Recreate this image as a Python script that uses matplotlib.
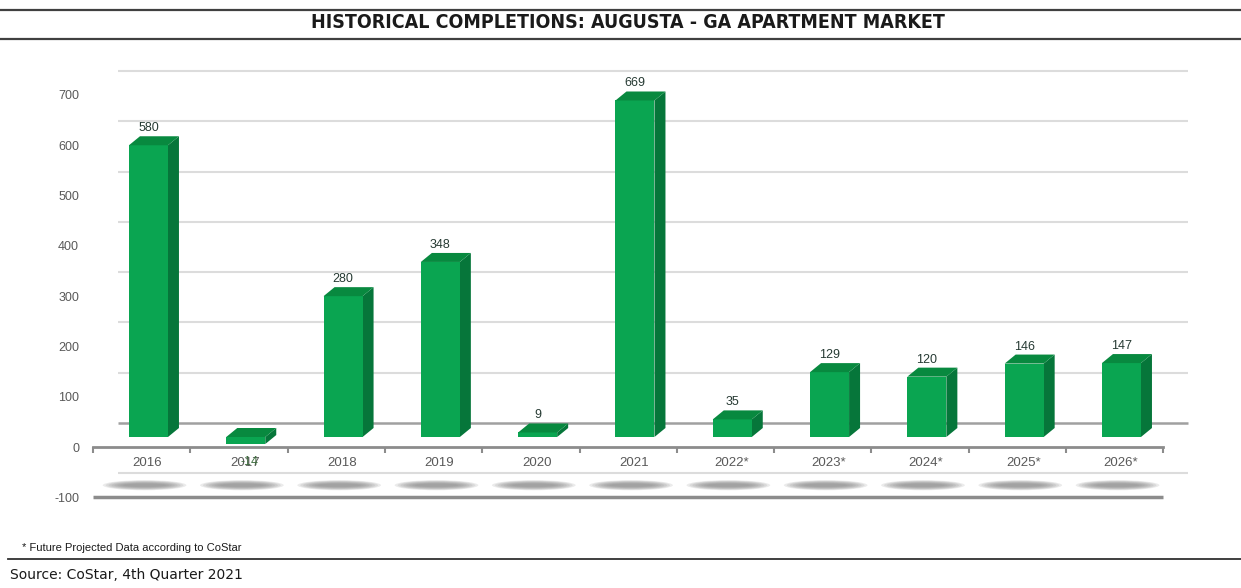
import matplotlib
matplotlib.use("Agg")
import matplotlib.pyplot as plt
from matplotlib.patches import Polygon, Ellipse
from matplotlib.lines import Line2D

# ---- data ----
years = ["2016", "2017", "2018", "2019", "2020", "2021",
         "2022*", "2023*", "2024*", "2025*", "2026*"]
completions = [580, -14, 280, 348, 9, 669, 35, 129, 120, 146, 147]
y_ticks = [-100, 0, 100, 200, 300, 400, 500, 600, 700]

title = "HISTORICAL COMPLETIONS: AUGUSTA - GA APARTMENT MARKET"
footnote = "* Future Projected Data according to CoStar"
source = "Source: CoStar, 4th Quarter 2021"

# ---- style ----
W, H = 1241, 588
front_c = "#0aa551"
side_c = "#06763a"
top_c = "#08893f"
label_c = "#263a33"
tick_c = "#595959"

fig = plt.figure(figsize=(W / 100, H / 100), dpi=100)

# axes placement in pixels
ax_l, ax_r = 93, 1190
ax_top, ax_bot = 60, 510
cat_px = 97.3
px_per_unit = 0.503
zero_px = 447
ax = fig.add_axes([ax_l / W, (H - ax_bot) / H, (ax_r - ax_l) / W, (ax_bot - ax_top) / H])
ax.set_xlim(-0.5, -0.5 + (ax_r - ax_l) / cat_px)
ax.set_ylim(-(ax_bot - zero_px) / px_per_unit, (zero_px - ax_top) / px_per_unit)
ax.patch.set_alpha(0)

n = len(years)
xs = list(range(n))

# back wall gridlines
wall_dx = 25 / cat_px
wall_dy = 24 / px_per_unit
for v in y_ticks:
    col = "#a0a0a0" if v == 0 else "#dcdcdc"
    lw = 1.8 if v == 0 else 1.5
    ax.plot([-0.5 + wall_dx, n - 0.5 + wall_dx], [v + wall_dy, v + wall_dy],
            color=col, lw=lw, zorder=1, solid_capstyle="butt")

# shadows
for x in xs:
    for k in range(8):
        ax.add_patch(Ellipse((x + 0.03, -76), 0.86 - k * 0.06, 20 - k * 2.0,
                             facecolor="#8a8a8a", edgecolor="none", alpha=0.17, zorder=1))

# front -100 line
ax.plot([-0.5, n - 0.5], [-100, -100], color="#8c8c8c", lw=2.5, zorder=2,
        solid_capstyle="butt")

# bars (3D look)
base = 10 / px_per_unit
shift = 0.07
bw = 39 / cat_px
bdx = 11 / cat_px
bdy = 9 / px_per_unit
ax.bar([x + shift for x in xs], completions, width=bw, bottom=base,
       color=front_c, edgecolor="none", zorder=5)
for x, v in zip(xs, completions):
    x0 = x + shift - bw / 2
    x1 = x + shift + bw / 2
    lo, hi = min(base, base + v), max(base, base + v)
    ax.add_patch(Polygon([[x1, lo], [x1 + bdx, lo + bdy], [x1 + bdx, hi + bdy], [x1, hi]],
                         closed=True, facecolor=side_c, edgecolor="none", zorder=4))
    ax.add_patch(Polygon([[x0, hi], [x1, hi], [x1 + bdx, hi + bdy], [x0 + bdx, hi + bdy]],
                         closed=True, facecolor=top_c, edgecolor="none", zorder=6))
    if v >= 0:
        ax.text(x + shift, base + v + bdy + 4, str(v), ha="center", va="bottom",
                fontsize=9, color=label_c, family="Liberation Sans", zorder=7)
    else:
        ax.text(x + 0.11, -29, str(v), ha="center", va="center",
                fontsize=9, color="#3d6b3d", family="Liberation Sans", zorder=7)

# axes: spines / ticks
for s in ["top", "right", "left"]:
    ax.spines[s].set_visible(False)
ax.spines["bottom"].set_position(("data", 0))
ax.spines["bottom"].set_bounds(-0.5, n - 0.5)
ax.spines["bottom"].set_color("#8c8c8c")
ax.spines["bottom"].set_linewidth(2)
ax.spines["bottom"].set_zorder(3)

ax.set_xticks([x + 0.06 for x in xs])
ax.set_xticklabels(years, fontsize=9.5, color=tick_c, family="Liberation Sans")
ax.set_xticks([x - 0.5 for x in range(n + 1)], minor=True)
ax.tick_params(axis="x", which="major", length=0, pad=7)
ax.tick_params(axis="x", which="minor", length=4, width=1.5, color="#8c8c8c", direction="out")

ax.set_yticks(y_ticks)
ax.set_yticklabels([str(v) for v in y_ticks], fontsize=9, color=tick_c, family="Liberation Sans")
ax.tick_params(axis="y", length=0, pad=10)

# figure decorations
def hline(y, x0=0, x1=W, color="#404040", lw=1.6):
    fig.add_artist(Line2D([x0 / W, x1 / W], [1 - y / H, 1 - y / H], color=color, lw=lw))

hline(10)
hline(39)
fig.text(628 / W, 1 - 22 / H, title, ha="center", va="center", fontsize=14,
         fontweight="bold", family=["DejaVu Sans Condensed", "DejaVu Sans"],
         fontstretch="condensed", color="#1a1a1a")
fig.text(22 / W, 1 - 548 / H, footnote, ha="left", va="center", fontsize=8,
         family="Liberation Sans", color="#1a1a1a")
hline(559, x0=8, color="#303030", lw=1.3)
fig.text(10 / W, 1 - 575 / H, source, ha="left", va="center", fontsize=10,
         family="DejaVu Sans", color="#1a1a1a")

fig.savefig("out.png", dpi=100)
